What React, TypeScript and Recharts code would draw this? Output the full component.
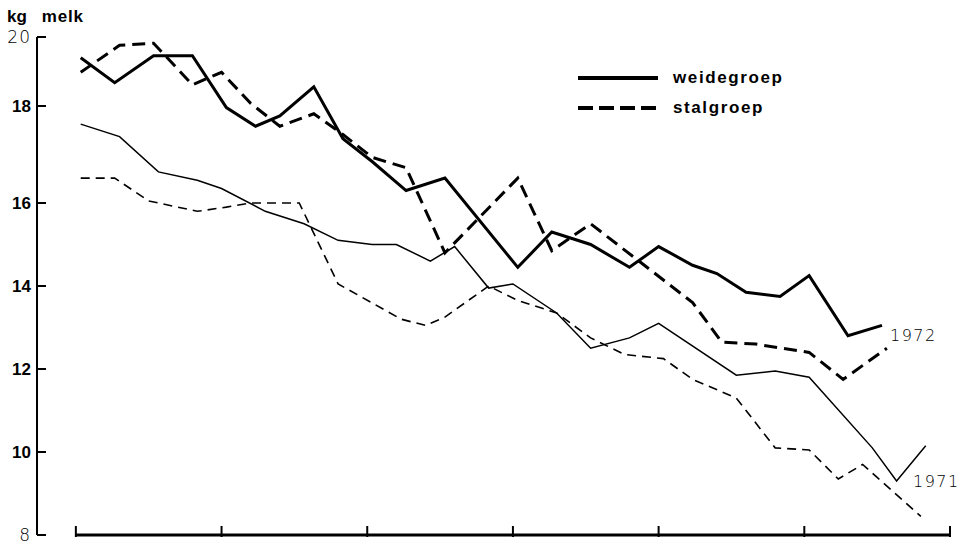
import { LineChart, Line, XAxis, YAxis, ReferenceLine } from "recharts";

// x: dagen vanaf de eerste streep op de x-as, y: kg melk
const weide72Dag = [1, 8, 16, 24, 31, 37, 42, 49, 55, 61, 68, 76, 91, 98, 106, 114, 120, 127, 132, 138, 145, 151, 159, 166];
const weide72Kg = [19.5, 18.9, 19.55, 19.55, 18.3, 17.85, 18.1, 18.8, 17.55, 17.0, 16.3, 16.6, 14.45, 15.3, 15.0, 14.45, 14.95, 14.5, 14.3, 13.85, 13.75, 14.25, 12.8, 13.05];

const stal72Dag = [1, 9, 16, 24, 30, 36, 42, 49, 55, 61, 68, 76, 91, 98, 106, 127, 133, 140, 151, 158, 167];
const stal72Kg = [19.15, 19.8, 19.85, 18.85, 19.15, 18.4, 17.85, 18.15, 17.65, 17.1, 16.85, 14.8, 16.6, 14.85, 15.5, 13.6, 12.65, 12.6, 12.4, 11.75, 12.5];

const weide71Dag = [1, 9, 17, 25, 30, 39, 47, 54, 61, 66, 73, 78, 85, 90, 99, 106, 114, 120, 136, 144, 151, 164, 169, 175];
const weide71Kg = [17.9, 17.6, 16.75, 16.55, 16.35, 15.8, 15.5, 15.1, 15.0, 15.0, 14.6, 14.95, 13.95, 14.05, 13.35, 12.5, 12.75, 13.1, 11.85, 11.95, 11.8, 10.1, 9.3, 10.15];

const stal71Dag = [1, 8, 15, 25, 31, 36, 46, 54, 67, 72, 76, 85, 91, 99, 106, 113, 121, 127, 136, 144, 151, 157, 162, 174];
const stal71Kg = [16.6, 16.6, 16.05, 15.8, 15.9, 16.0, 16.0, 14.05, 13.2, 13.05, 13.25, 14.0, 13.65, 13.35, 12.75, 12.35, 12.25, 11.75, 11.3, 10.1, 10.05, 9.35, 9.7, 8.45];

const yTicks = [8, 10, 12, 14, 16, 18, 20];
const xTicks = [0, 30, 60, 90, 120, 150, 180];

const rows = (dag: number[], kg: number[]) => dag.map((d, i) => ({ dag: d, kg: kg[i] }));

const weide72 = rows(weide72Dag, weide72Kg);
const stal72 = rows(stal72Dag, stal72Kg);
const weide71 = rows(weide71Dag, weide71Kg);
const stal71 = rows(stal71Dag, stal71Kg);

const BOLD = "'Liberation Sans', Arial, sans-serif";
const THIN = "'DejaVu Sans', sans-serif";

const YTick = ({ x, y, payload }: any) => {
  const v = payload.value;
  // in het origineel staat de 18 een stuk hoger dan de schaal
  const yy = v === 18 ? y - 14 : y;
  const thin = v === 20 || v === 8;
  return (
    <g>
      <line x1={x} x2={x + 9} y1={yy} y2={yy} stroke="#000" strokeWidth={2} />
      <text
        x={x - 6}
        y={yy}
        dy="0.36em"
        textAnchor="end"
        fill="#000"
        fontFamily={thin ? THIN : BOLD}
        fontWeight={thin ? 200 : 700}
        fontSize={17}
        letterSpacing={thin ? 1 : 0}
      >
        {v}
      </text>
    </g>
  );
};

const XTick = ({ x, y }: any) => (
  <line x1={x} x2={x} y1={y + 2} y2={y - 9} stroke="#000" strokeWidth={2} />
);

export default function App() {
  return (
    <div style={{ position: "absolute", left: 0, top: 0, width: 964, height: 545, background: "#fff" }}>
      <LineChart width={964} height={545} margin={{ top: 37, right: 14, bottom: 0, left: 0 }}>
        <XAxis
          type="number"
          dataKey="dag"
          domain={[-8, 180]}
          ticks={xTicks}
          axisLine={false}
          tickLine={false}
          tickSize={0}
          tickMargin={0}
          tick={<XTick />}
          height={10}
          allowDataOverflow
        />
        <YAxis
          type="number"
          domain={[8, 20]}
          ticks={yTicks}
          width={37}
          axisLine={{ stroke: "#000", strokeWidth: 2 }}
          tickLine={false}
          tickSize={0}
          tickMargin={0}
          tick={<YTick />}
          interval={0}
        />
        <ReferenceLine
          segment={[{ x: 0, y: 8 }, { x: 180, y: 8 }]}
          stroke="#000"
          strokeWidth={3}
          ifOverflow="visible"
        />
        <Line data={weide71} dataKey="kg" type="linear" stroke="#000" strokeWidth={1.5} dot={false} isAnimationActive={false} />
        <Line data={stal71} dataKey="kg" type="linear" stroke="#000" strokeWidth={1.6} strokeDasharray="9 6" dot={false} isAnimationActive={false} />
        <Line data={weide72} dataKey="kg" type="linear" stroke="#000" strokeWidth={3} dot={false} isAnimationActive={false} />
        <Line data={stal72} dataKey="kg" type="linear" stroke="#000" strokeWidth={3} strokeDasharray="13 7" dot={false} isAnimationActive={false} />
      </LineChart>

      <div style={{ position: "absolute", left: 7, top: 7, fontFamily: BOLD, fontWeight: 700, fontSize: 17, lineHeight: "20px" }}>
        kg<span style={{ marginLeft: 15, letterSpacing: 0.8 }}>melk</span>
      </div>

      <div style={{ position: "absolute", left: 578, top: 66, fontFamily: BOLD, fontWeight: 700, fontSize: 17, letterSpacing: 1.6, lineHeight: "24px" }}>
        <div style={{ display: "flex", alignItems: "center", height: 24 }}>
          <svg width={80} height={8}><line x1={0} x2={80} y1={4} y2={4} stroke="#000" strokeWidth={4} /></svg>
          <span style={{ marginLeft: 15 }}>weidegroep</span>
        </div>
        <div style={{ display: "flex", alignItems: "center", height: 24, marginTop: 6 }}>
          <svg width={80} height={8}><line x1={0} x2={80} y1={4} y2={4} stroke="#000" strokeWidth={4} strokeDasharray="15 6" /></svg>
          <span style={{ marginLeft: 15 }}>stalgroep</span>
        </div>
      </div>

      <div style={{ position: "absolute", left: 890, top: 326, fontFamily: THIN, fontWeight: 200, fontSize: 16, letterSpacing: 1.5, lineHeight: "20px" }}>
        1972
      </div>
      <div style={{ position: "absolute", left: 913, top: 472, fontFamily: THIN, fontWeight: 200, fontSize: 16, letterSpacing: 1.5, lineHeight: "20px" }}>
        1971
      </div>
    </div>
  );
}
